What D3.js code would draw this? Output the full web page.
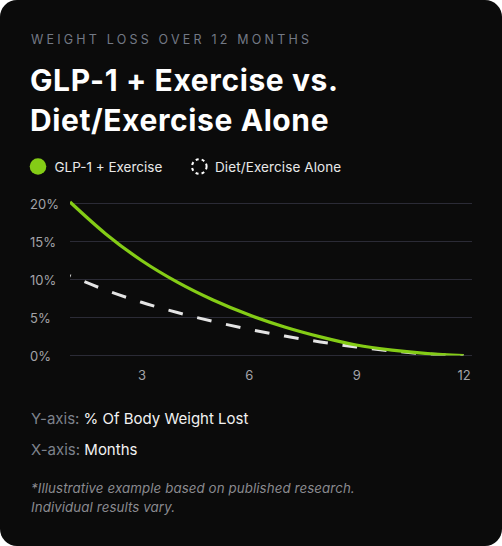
<!DOCTYPE html>
<html>
<head>
<meta charset="utf-8">
<script src="https://cdn.jsdelivr.net/npm/d3@7"></script>
<style>
  body { margin: 0; background: #ffffff; }
  svg { display: block; font-family: Inter, "Noto Sans", sans-serif; }
</style>
</head>
<body>
<div id="chart"></div>
<script>
// chart values
var months = [1, 2, 3, 4, 5, 6, 7, 8, 9, 10, 11, 12];
var glp1Exercise = [20.2, 16.0, 12.5, 9.65, 7.3, 5.35, 3.75, 2.45, 1.38, 0.7, 0.25, 0];
var dietExercise = [10.5, 8.6, 7.0, 5.65, 4.48, 3.46, 2.56, 1.78, 1.12, 0.6, 0.2, 0];
var yTicks = [0, 5, 10, 15, 20];
var xTicks = [3, 6, 9, 12];
var seriesNames = ["GLP-1 + Exercise", "Diet/Exercise Alone"];

var svgWidth = 502;
var svgHeight = 546;

var svg = d3.select("#chart").append("svg")
  .attr("width", svgWidth)
  .attr("height", svgHeight);

// dark card
svg.append("rect")
  .attr("width", svgWidth)
  .attr("height", svgHeight)
  .attr("rx", 17)
  .attr("fill", "#0b0b0b");

// header
svg.append("text")
  .attr("x", 31)
  .attr("y", 44)
  .attr("fill", "#737985")
  .style("font-size", "12.5px")
  .style("letter-spacing", "3.2px")
  .text("WEIGHT LOSS OVER 12 MONTHS");

var title = svg.append("text")
  .attr("fill", "#ffffff")
  .style("font-size", "30px")
  .style("font-weight", 700)
  .style("letter-spacing", "0.6px");
title.append("tspan").attr("x", 30).attr("y", 91).text("GLP-1 + Exercise vs.");
title.append("tspan").attr("x", 30).attr("y", 131).text("Diet/Exercise Alone");

// legend
var legend = svg.append("g");
legend.append("circle")
  .attr("cx", 38)
  .attr("cy", 166.5)
  .attr("r", 8.3)
  .attr("fill", "#84cc16");
legend.append("text")
  .attr("x", 54.5)
  .attr("y", 171.5)
  .attr("fill", "#e8e8e8")
  .style("font-size", "13.5px")
  .text(seriesNames[0]);
legend.append("circle")
  .attr("cx", 199.3)
  .attr("cy", 166.5)
  .attr("r", 7.3)
  .attr("fill", "none")
  .attr("stroke", "#ffffff")
  .attr("stroke-width", 2)
  .attr("stroke-dasharray", "3 3.1");
legend.append("text")
  .attr("x", 215)
  .attr("y", 171.5)
  .attr("fill", "#e8e8e8")
  .style("font-size", "13.5px")
  .style("letter-spacing", "0.1px")
  .text(seriesNames[1]);

// scales
var xScale = d3.scaleLinear().domain([1, 12]).range([70, 463.5]);
var yScale = d3.scaleLinear().domain([0, 20]).range([355.5, 203.5]);

// grid lines
svg.append("g")
  .selectAll("line")
  .data(yTicks)
  .enter()
  .append("line")
  .attr("x1", 70)
  .attr("x2", 472)
  .attr("y1", d => yScale(d))
  .attr("y2", d => yScale(d))
  .attr("stroke", "#2b2b36")
  .attr("stroke-width", 1);

// y axis labels
var yAxis = svg.append("g")
  .attr("transform", "translate(30, 0)")
  .call(d3.axisRight(yScale).tickValues(yTicks).tickSize(0).tickPadding(0).tickFormat(d => d + "%"));
yAxis.select(".domain").remove();
yAxis.selectAll("text")
  .attr("fill", "#a3a3a8")
  .attr("dy", "0.4em")
  .style("font-family", "Inter, sans-serif")
  .style("font-size", "13px");

// x axis labels
var xAxis = svg.append("g")
  .attr("transform", "translate(0, 370)")
  .call(d3.axisBottom(xScale).tickValues(xTicks).tickSize(0).tickPadding(0));
xAxis.select(".domain").remove();
xAxis.selectAll("text")
  .attr("fill", "#a3a3a8")
  .attr("dy", "0.8em")
  .style("font-family", "Inter, sans-serif")
  .style("font-size", "13px");

// clip lines to the plot (zero line cuts half of the stroke)
svg.append("clipPath")
  .attr("id", "plotClip")
  .append("rect")
  .attr("x", 70)
  .attr("y", 185)
  .attr("width", 402)
  .attr("height", yScale(0) - 185);

var line = d3.line()
  .x((d, i) => xScale(months[i]))
  .y(d => yScale(d))
  .curve(d3.curveMonotoneX);

var plot = svg.append("g").attr("clip-path", "url(#plotClip)");

plot.append("path")
  .datum(dietExercise)
  .attr("d", line)
  .attr("fill", "none")
  .attr("stroke", "#e4e4e4")
  .attr("stroke-width", 3)
  .attr("stroke-dasharray", "14.8 14.8")
  .attr("stroke-dashoffset", 14);

plot.append("path")
  .datum(glp1Exercise)
  .attr("d", line)
  .attr("fill", "none")
  .attr("stroke", "#84cc16")
  .attr("stroke-width", 3.2);

// axis notes
var yNote = svg.append("text")
  .attr("x", 31)
  .attr("y", 424)
  .style("font-size", "15px");
yNote.append("tspan").attr("fill", "#7d828c").text("Y-axis: ");
yNote.append("tspan").attr("fill", "#f2f2f2").text("% Of Body Weight Lost");

var xNote = svg.append("text")
  .attr("x", 31)
  .attr("y", 455)
  .style("font-size", "15px");
xNote.append("tspan").attr("fill", "#7d828c").text("X-axis: ");
xNote.append("tspan").attr("fill", "#f2f2f2").text("Months");

// footnote
var foot = svg.append("text")
  .attr("fill", "#8a8a8f")
  .style("font-size", "13.3px")
  .style("font-style", "italic")
  .style("letter-spacing", "0.1px");
foot.append("tspan").attr("x", 31).attr("y", 493).text("*Illustrative example based on published research.");
foot.append("tspan").attr("x", 31).attr("y", 511.5).text("Individual results vary.");
</script>
</body>
</html>
